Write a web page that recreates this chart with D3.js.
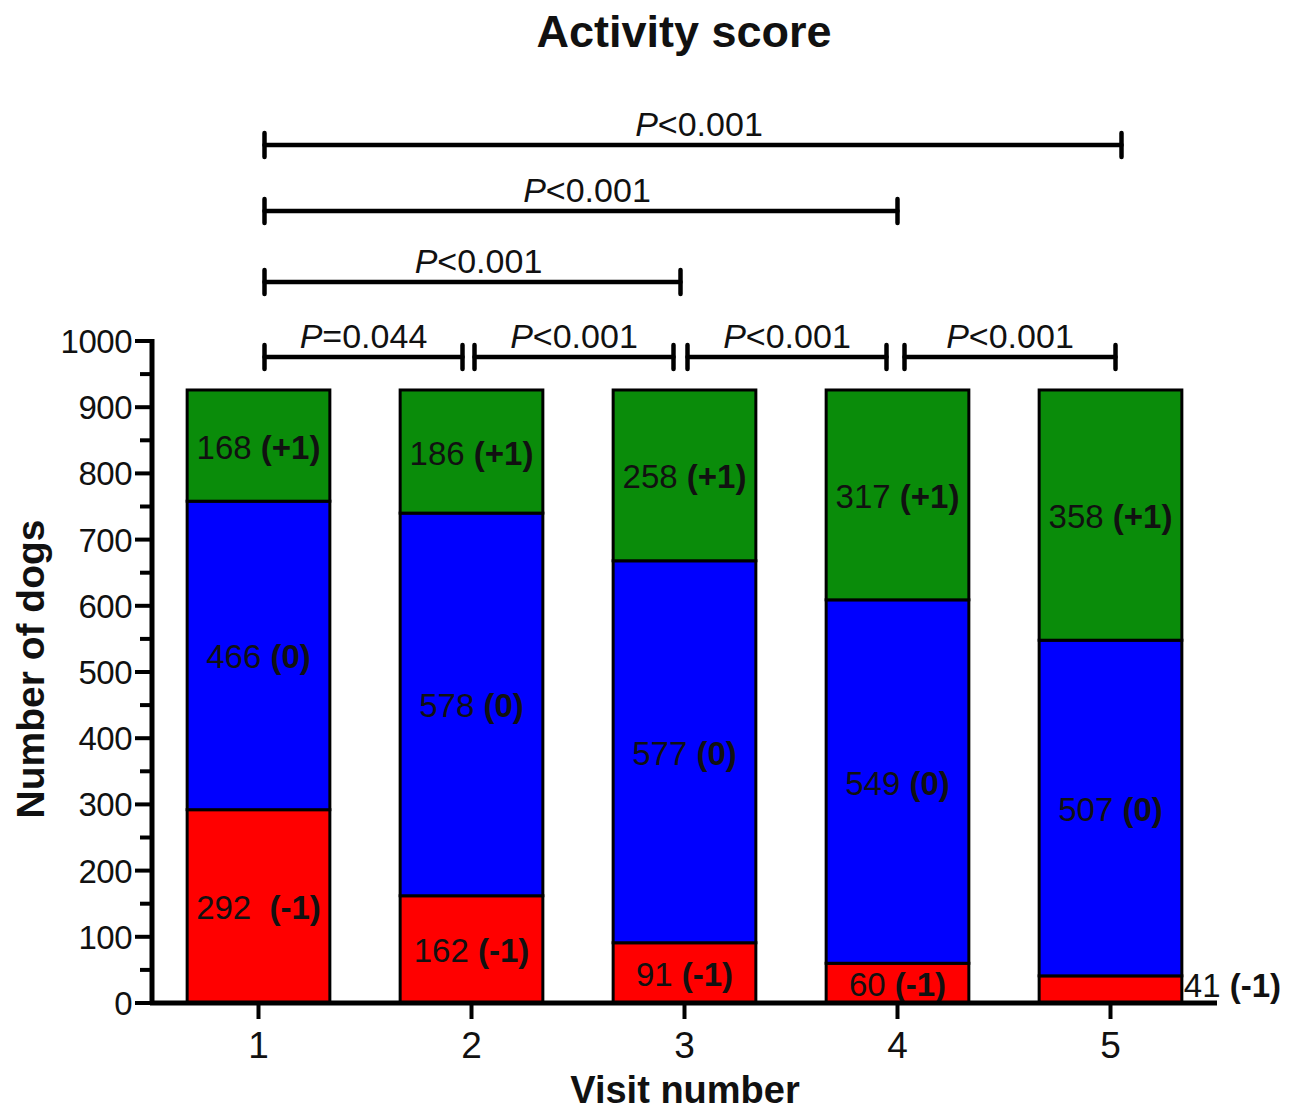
<!DOCTYPE html>
<html><head><meta charset="utf-8">
<script src="https://cdn.jsdelivr.net/npm/d3@7/dist/d3.min.js"></script>
<style>body{margin:0;background:#fff}svg{display:block;font-family:"Liberation Sans",Arial,sans-serif}</style>
</head><body>
<svg id="c" width="1302" height="1114"></svg>
<script>
const visits = [1, 2, 3, 4, 5];
// drawn segment heights
const minusOne = [292, 162, 91, 60, 41];
const zero = [466, 578, 577, 549, 507];
const plusOne = [168, 186, 258, 317, 378];
// printed labels
const minusOneLabels = ["292", "162", "91", "60", "41"];
const zeroLabels = ["466", "578", "577", "549", "507"];
const plusOneLabels = ["168", "186", "258", "317", "358"];
const seriesNames = ["(-1)", "(0)", "(+1)"];
const seriesColors = ["#ff0000", "#0000ff", "#0a8c0a"];
const yTicks = [0, 100, 200, 300, 400, 500, 600, 700, 800, 900, 1000];
const compFrom = [1, 2, 3, 4, 1, 1, 1];
const compTo = [2, 3, 4, 5, 3, 4, 5];
const compLevel = [0, 0, 0, 0, 1, 2, 3];
const compOp = ["=", "<", "<", "<", "<", "<", "<"];
const compP = ["0.044", "0.001", "0.001", "0.001", "0.001", "0.001", "0.001"];

const svg = d3.select("#c");
const x = d3.scaleLinear().domain([0.5, 5.5]).range([152, 1217]);
const y = d3.scaleLinear().domain([0, 1000]).range([1003, 341]);
const bw = 0.67;
const labels = [minusOneLabels, zeroLabels, plusOneLabels];

const rows = visits.map((v, i) => ({visit: v, i: i, m: minusOne[i], z: zero[i], p: plusOne[i]}));
const stack = d3.stack().keys(["m", "z", "p"])(rows);

const g = svg.append("g");
stack.forEach((layer, li) => {
  g.selectAll(null).data(layer).enter().append("rect")
    .attr("x", d => x(d.data.visit - bw / 2))
    .attr("width", d => x(d.data.visit + bw / 2) - x(d.data.visit - bw / 2))
    .attr("y", d => y(d[1]))
    .attr("height", d => y(d[0]) - y(d[1]))
    .attr("fill", seriesColors[li])
    .attr("stroke", "#000").attr("stroke-width", 3);
});

stack.forEach((layer, li) => {
  layer.forEach(d => {
    const outside = li === 0 && d.data.visit === 5;
    let tx = x(d.data.visit), ty = y((d[0] + d[1]) / 2) + 13, anchor = "middle";
    if (outside) { tx = x(d.data.visit + bw / 2) + 2; ty = y(0) - 6; anchor = "start"; }
    const t = g.append("text").attr("x", tx).attr("y", ty).attr("text-anchor", anchor)
      .attr("font-size", 33).attr("fill", "#111");
    t.append("tspan").text(labels[li][d.data.i] + (d.data.visit === 1 && li === 0 ? "\u00a0\u00a0" : " "));
    t.append("tspan").attr("font-weight", "bold").text(seriesNames[li]);
  });
});

// y axis
const yAxis = svg.append("g").attr("transform", "translate(152,0)");
yAxis.append("line").attr("x1", 0).attr("x2", 0).attr("y1", y(1000) - 2).attr("y2", y(0) + 2)
  .attr("stroke", "#000").attr("stroke-width", 5);
d3.range(0, 1001, 50).forEach(v => {
  const major = v % 100 === 0;
  yAxis.append("line").attr("x1", major ? -17 : -12).attr("x2", 0).attr("y1", y(v)).attr("y2", y(v))
    .attr("stroke", "#000").attr("stroke-width", 4);
});
yAxis.selectAll(null).data(yTicks).enter().append("text")
  .attr("x", -20).attr("y", d => y(d) + 12).attr("text-anchor", "end")
  .attr("font-size", 33).attr("fill", "#111").attr("letter-spacing", -0.5).text(d => d);

// x axis
const xAxis = svg.append("g");
xAxis.append("line").attr("x1", 150).attr("x2", 1217).attr("y1", y(0)).attr("y2", y(0))
  .attr("stroke", "#000").attr("stroke-width", 5);
visits.forEach(v => {
  xAxis.append("line").attr("x1", x(v)).attr("x2", x(v)).attr("y1", y(0)).attr("y2", y(0) + 16)
    .attr("stroke", "#000").attr("stroke-width", 4);
  xAxis.append("text").attr("x", x(v)).attr("y", 1058).attr("text-anchor", "middle")
    .attr("font-size", 37).attr("fill", "#111").text(v);
});

// comparisons
const levelY = [357, 282, 211, 145];
compFrom.forEach((a, i) => {
  const b = compTo[i], lv = compLevel[i];
  let x1, x2;
  if (lv === 0) {
    x1 = x(a) + (a === 1 ? 6 : a === 4 ? 7 : 3);
    x2 = b === 5 ? x(b) + 5 : x(b) - (b === 2 ? 9 : 11);
  } else {
    x1 = x(a) + 6;
    x2 = b === 5 ? x(b) + 11 : b === 3 ? x(b) - 4 : x(b);
  }
  const yy = levelY[lv];
  const br = svg.append("g").attr("stroke", "#000").attr("stroke-width", 4.5).attr("stroke-linecap", "round");
  br.append("line").attr("x1", x1).attr("x2", x2).attr("y1", yy).attr("y2", yy);
  br.append("line").attr("x1", x1).attr("x2", x1).attr("y1", yy - 12).attr("y2", yy + 12);
  br.append("line").attr("x1", x2).attr("x2", x2).attr("y1", yy - 12).attr("y2", yy + 12);
  const t = svg.append("text").attr("x", (x1 + x2) / 2 + (lv > 0 ? 6 : 0)).attr("y", yy - 9)
    .attr("text-anchor", "middle").attr("font-size", 34).attr("fill", "#111");
  t.append("tspan").attr("font-style", "italic").text("P");
  t.append("tspan").text(compOp[i] + compP[i]);
});

// titles
svg.append("text").attr("x", 684).attr("y", 47).attr("text-anchor", "middle")
  .attr("font-size", 45).attr("font-weight", "bold").attr("fill", "#111").text("Activity score");
svg.append("text").attr("x", 685).attr("y", 1103).attr("text-anchor", "middle")
  .attr("font-size", 38).attr("font-weight", "bold").attr("fill", "#111").text("Visit number");
svg.append("text").attr("transform", "translate(44,669) rotate(-90)").attr("text-anchor", "middle")
  .attr("font-size", 39).attr("font-weight", "bold").attr("fill", "#111").text("Number of dogs");
</script>
</body></html>
